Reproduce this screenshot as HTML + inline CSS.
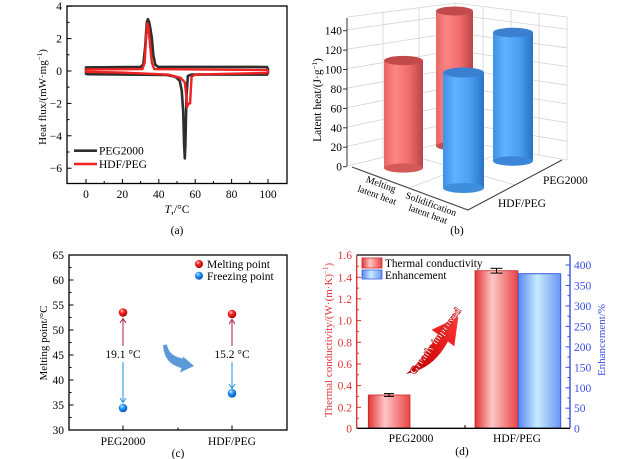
<!DOCTYPE html>
<html><head><meta charset="utf-8"><style>
html,body{margin:0;padding:0;background:#fff;}
svg{display:block;}
text{font-family:"Liberation Serif",serif;}
</style></head><body>
<svg width="639" height="459" viewBox="0 0 639 459" xmlns="http://www.w3.org/2000/svg">
<defs>
<linearGradient id="rb" x1="0" x2="1" y1="0" y2="0">
<stop offset="0" stop-color="#e86666"/><stop offset="0.3" stop-color="#ff8585"/><stop offset="0.65" stop-color="#ee6b6b"/><stop offset="1" stop-color="#b84545"/></linearGradient>
<linearGradient id="bb" x1="0" x2="1" y1="0" y2="0">
<stop offset="0" stop-color="#3f92e6"/><stop offset="0.3" stop-color="#5fb2ff"/><stop offset="0.65" stop-color="#4aa0f2"/><stop offset="1" stop-color="#2a72c4"/></linearGradient>
<linearGradient id="dr" x1="0" x2="1" y1="0" y2="0">
<stop offset="0" stop-color="#e23434"/><stop offset="0.4" stop-color="#ffc6c6"/><stop offset="1" stop-color="#e84444"/></linearGradient>
<linearGradient id="db" x1="0" x2="1" y1="0" y2="0">
<stop offset="0" stop-color="#5a88f0"/><stop offset="0.45" stop-color="#c6ecff"/><stop offset="1" stop-color="#6a96f2"/></linearGradient>
<radialGradient id="ballr" cx="0.38" cy="0.32" r="0.7">
<stop offset="0" stop-color="#ffd8d8"/><stop offset="0.35" stop-color="#ff2a2a"/><stop offset="1" stop-color="#a00000"/></radialGradient>
<radialGradient id="ballb" cx="0.38" cy="0.32" r="0.7">
<stop offset="0" stop-color="#d8f0ff"/><stop offset="0.35" stop-color="#2c9cff"/><stop offset="1" stop-color="#0050b8"/></radialGradient>
<linearGradient id="arr" x1="0" x2="1" y1="1" y2="0">
<stop offset="0" stop-color="#b80000"/><stop offset="0.6" stop-color="#e81a1a"/><stop offset="1" stop-color="#ff3a3a"/></linearGradient>
</defs>

<!-- ================= (a) ================= -->
<g>
<rect x="67" y="6" width="220" height="177.5" fill="none" stroke="#000" stroke-width="1.3"/>
<g stroke="#000" stroke-width="1">
<line x1="86" y1="183.5" x2="86" y2="179"/><line x1="122.4" y1="183.5" x2="122.4" y2="179"/><line x1="158.8" y1="183.5" x2="158.8" y2="179"/><line x1="195.2" y1="183.5" x2="195.2" y2="179"/><line x1="231.6" y1="183.5" x2="231.6" y2="179"/><line x1="268" y1="183.5" x2="268" y2="179"/>
<line x1="104.2" y1="183.5" x2="104.2" y2="181"/><line x1="140.6" y1="183.5" x2="140.6" y2="181"/><line x1="177" y1="183.5" x2="177" y2="181"/><line x1="213.4" y1="183.5" x2="213.4" y2="181"/><line x1="249.8" y1="183.5" x2="249.8" y2="181"/>
<line x1="67" y1="6.2" x2="71.5" y2="6.2"/><line x1="67" y1="38.6" x2="71.5" y2="38.6"/><line x1="67" y1="71" x2="71.5" y2="71"/><line x1="67" y1="103.4" x2="71.5" y2="103.4"/><line x1="67" y1="135.8" x2="71.5" y2="135.8"/><line x1="67" y1="168.2" x2="71.5" y2="168.2"/>
<line x1="67" y1="22.4" x2="69.5" y2="22.4"/><line x1="67" y1="54.8" x2="69.5" y2="54.8"/><line x1="67" y1="87.2" x2="69.5" y2="87.2"/><line x1="67" y1="119.6" x2="69.5" y2="119.6"/><line x1="67" y1="152" x2="69.5" y2="152"/>
</g>
<g font-size="11.5" text-anchor="end" fill="#000">
<text x="62" y="10.2">4</text><text x="62" y="42.6">2</text><text x="62" y="75">0</text><text x="62" y="107.4">−2</text><text x="62" y="139.8">−4</text><text x="62" y="172.2">−6</text>
</g>
<g font-size="11.5" text-anchor="middle" fill="#000">
<text x="86" y="198">0</text><text x="122.4" y="198">20</text><text x="158.8" y="198">40</text><text x="195.2" y="198">60</text><text x="231.6" y="198">80</text><text x="268" y="198">100</text>
<text x="177" y="213"><tspan font-style="italic">T</tspan>,/°C</text>
<text x="177" y="234">(a)</text>
</g>
<text transform="translate(46,97) rotate(-90)" font-size="11" text-anchor="middle">Heat flux/(mW·mg<tspan font-size="7" dy="-4">−1</tspan><tspan dy="4">)</tspan></text>

<path d="M86,73.9 L86,67.4 L140.6,67 L143.3,64.5 L145.2,46.7 L146.8,22.4 L147.9,19.2 L149.2,22.4 L150.4,28.9 L151.9,38.6 L153.3,54.8 L155.2,64.5 L157.9,66.8 L267.1,67 L268,69.4 L268,72.6 L267.1,74.6 L191.6,74.6 L187.9,75.9 L186.5,95.3 L185.4,143.9 L184.8,158.5 L184.1,143.9 L183.2,111.5 L181.7,90.4 L179.7,80.7 L175.2,76.7 L166.1,74.9 L87.8,74.2 Z" fill="none" stroke="#2e2e2e" stroke-width="2.6" stroke-linejoin="round"/>
<path d="M86,71.8 L86,69.4 L142.4,69.1 L144.6,62.9 L146.1,38.6 L147.3,23.2 L148.6,28.9 L150.1,45.1 L151.9,62.9 L154.3,69.1 L267.1,70 L268,71.8 L267.1,72.9 L195.2,74.6 L191.6,76.7 L190.7,92.1 L190.1,103.4 L188.3,103.4 L187,107.5 L186.1,93.7 L184.8,82.3 L180.6,77.8 L167.9,74.6 L122.4,72.6 Z" fill="none" stroke="#ee2222" stroke-width="2.4" stroke-linejoin="round"/>
<line x1="74" y1="150.7" x2="97" y2="150.7" stroke="#2e2e2e" stroke-width="2.6"/>
<line x1="74" y1="164" x2="97" y2="164" stroke="#ee2222" stroke-width="2.6"/>
<text x="99" y="154.7" font-size="11.5">PEG2000</text>
<text x="99" y="168" font-size="11.5">HDF/PEG</text>
</g>

<!-- ================= (b) ================= -->
<g>
<g fill="none" stroke="#d4d4d4" stroke-width="0.8">
<polyline points="347,166 455,140 567,160"/>
<polyline points="347,146.5 455,122.1 567,141.3"/>
<polyline points="347,127.1 455,104.2 567,122.6"/>
<polyline points="347,107.6 455,86.3 567,103.9"/>
<polyline points="347,88.2 455,68.4 567,85.2"/>
<polyline points="347,68.7 455,50.5 567,66.5"/>
<polyline points="347,49.2 455,32.6 567,47.8"/>
<polyline points="347,29.8 455,14.7 567,29.1"/>
<polyline points="347,17.1 455,3 567,17"/>
<line x1="383" y1="157.3" x2="383" y2="12.4"/><line x1="419" y1="148.7" x2="419" y2="7.7"/>
<line x1="455" y1="140" x2="455" y2="3"/>
<line x1="483" y1="145" x2="483" y2="6.5"/><line x1="511" y1="150" x2="511" y2="10"/><line x1="539" y1="155" x2="539" y2="13.5"/><line x1="567" y1="160" x2="567" y2="17"/>
<line x1="402.5" y1="153" x2="515.5" y2="185"/><line x1="409" y1="188" x2="509" y2="150"/>
</g>
<line x1="347" y1="18" x2="347" y2="166" stroke="#333" stroke-width="1"/>
<g stroke="#333" stroke-width="1">
<line x1="343" y1="166.7" x2="347" y2="166.7"/><line x1="343" y1="147.2" x2="347" y2="147.2"/><line x1="343" y1="127.8" x2="347" y2="127.8"/><line x1="343" y1="108.4" x2="347" y2="108.4"/><line x1="343" y1="89" x2="347" y2="89"/><line x1="343" y1="69.5" x2="347" y2="69.5"/><line x1="343" y1="50.1" x2="347" y2="50.1"/><line x1="343" y1="30.7" x2="347" y2="30.7"/>
</g>
<polyline points="352,167 468,210 562,160" fill="none" stroke="#444" stroke-width="1.1"/>
<g font-size="11.5" text-anchor="end">
<text x="342" y="170.7">0</text><text x="342" y="151.2">20</text><text x="342" y="131.8">40</text><text x="342" y="112.4">60</text><text x="342" y="93">80</text><text x="342" y="73.5">100</text><text x="342" y="54.1">120</text><text x="342" y="34.7">140</text>
</g>
<text transform="translate(321,100) rotate(-90)" font-size="11.5" text-anchor="middle">Latent heat/(J·g<tspan font-size="7" dy="-4">−1</tspan><tspan dy="4">)</tspan></text>

<rect x="436" y="11" width="37" height="135" fill="url(#rb)"/>
<ellipse cx="454.5" cy="146" rx="18.5" ry="4.5" fill="#c45050"/>
<ellipse cx="454.5" cy="11" rx="18.5" ry="4.5" fill="#c24a4a"/>
<rect x="493" y="32.5" width="40" height="128.5" fill="url(#bb)"/>
<ellipse cx="513" cy="161" rx="20" ry="4.8" fill="#3a86d8"/>
<ellipse cx="513" cy="32.5" rx="20" ry="4.8" fill="#3b7fd0"/>
<rect x="384" y="60.5" width="39" height="107.5" fill="url(#rb)"/>
<ellipse cx="403.5" cy="168" rx="19.5" ry="4.6" fill="#d45a5a"/>
<ellipse cx="403.5" cy="60.5" rx="19.5" ry="4.6" fill="#c24a4a"/>
<rect x="443" y="72.5" width="41" height="115.5" fill="url(#bb)"/>
<ellipse cx="463.5" cy="188" rx="20.5" ry="5" fill="#3f8ede"/>
<ellipse cx="463.5" cy="72.5" rx="20.5" ry="5" fill="#3b7fd0"/>

<g font-size="9.8" text-anchor="middle">
<text transform="translate(380,187) rotate(20)">Melting</text>
<text transform="translate(376,198) rotate(20)">latent heat</text>
<text transform="translate(430,207) rotate(20)">Solidification</text>
<text transform="translate(427,217) rotate(20)">latent heat</text>
</g>
<text x="543" y="184" font-size="11.5">PEG2000</text>
<text x="498" y="207" font-size="11.5">HDF/PEG</text>
<text x="457" y="234" font-size="11.5" text-anchor="middle">(b)</text>
</g>

<!-- ================= (c) ================= -->
<g>
<rect x="69" y="255" width="218" height="175" fill="none" stroke="#000" stroke-width="1.3"/>
<g stroke="#000" stroke-width="1">
<line x1="69" y1="280" x2="73.5" y2="280"/><line x1="69" y1="305" x2="73.5" y2="305"/><line x1="69" y1="330" x2="73.5" y2="330"/><line x1="69" y1="355" x2="73.5" y2="355"/><line x1="69" y1="380" x2="73.5" y2="380"/><line x1="69" y1="405" x2="73.5" y2="405"/>
<line x1="69" y1="267.5" x2="71.5" y2="267.5"/><line x1="69" y1="292.5" x2="71.5" y2="292.5"/><line x1="69" y1="317.5" x2="71.5" y2="317.5"/><line x1="69" y1="342.5" x2="71.5" y2="342.5"/><line x1="69" y1="367.5" x2="71.5" y2="367.5"/><line x1="69" y1="392.5" x2="71.5" y2="392.5"/><line x1="69" y1="417.5" x2="71.5" y2="417.5"/>
<line x1="123" y1="430" x2="123" y2="425.5"/><line x1="232" y1="430" x2="232" y2="425.5"/><line x1="178" y1="430" x2="178" y2="427.5"/>
</g>
<g font-size="11.5" text-anchor="end">
<text x="64" y="259">65</text><text x="64" y="284">60</text><text x="64" y="309">55</text><text x="64" y="334">50</text><text x="64" y="359">45</text><text x="64" y="384">40</text><text x="64" y="409">35</text><text x="64" y="434">30</text>
</g>
<g font-size="11.5" text-anchor="middle">
<text x="123" y="445">PEG2000</text><text x="232" y="445">HDF/PEG</text>
<text x="178" y="457">(c)</text>
<text x="123" y="358">19.1 °C</text><text x="232" y="358">15.2 °C</text>
</g>
<text transform="translate(47,343) rotate(-90)" font-size="11" text-anchor="middle">Melting point/°C</text>
<g fill="none" stroke-width="1.1">
<line x1="123" y1="346" x2="123" y2="319" stroke="#b03050"/><polyline points="120,323 123,318.5 126,323" stroke="#b03050"/>
<line x1="123" y1="362" x2="123" y2="402" stroke="#2a9ee0"/><polyline points="120,398 123,402.5 126,398" stroke="#2a9ee0"/>
<line x1="232" y1="346" x2="232" y2="320" stroke="#b03050"/><polyline points="229,324 232,319.5 235,324" stroke="#b03050"/>
<line x1="232" y1="362" x2="232" y2="388" stroke="#2a9ee0"/><polyline points="229,384 232,388.5 235,384" stroke="#2a9ee0"/>
</g>
<circle cx="123" cy="312.5" r="4.3" fill="url(#ballr)"/>
<circle cx="123" cy="408" r="4.3" fill="url(#ballb)"/>
<circle cx="232" cy="314" r="4.3" fill="url(#ballr)"/>
<circle cx="232" cy="393.3" r="4.3" fill="url(#ballb)"/>
<path d="M163,345 L167,344.5 Q168.5,356 183,358.5 L183,356.5 L194,366 L180,372.5 L181.5,368 Q164,364 163,345 Z" fill="#5b9ad6"/>
<circle cx="199" cy="264" r="4" fill="url(#ballr)"/>
<circle cx="199" cy="275.7" r="4" fill="url(#ballb)"/>
<text x="207" y="268" font-size="11.5">Melting point</text>
<text x="207" y="280" font-size="11.5">Freezing point</text>
</g>

<!-- ================= (d) ================= -->
<g>
<rect x="368.3" y="395" width="41.7" height="33.3" fill="url(#dr)" stroke="#c82828" stroke-width="0.8"/>
<rect x="475" y="270.7" width="43" height="157.6" fill="url(#dr)" stroke="#c82828" stroke-width="0.8"/>
<rect x="518.3" y="273.7" width="42.4" height="154.6" fill="url(#db)" stroke="#3a5ae0" stroke-width="1"/>
<g stroke="#000" stroke-width="1">
<line x1="389" y1="393.6" x2="389" y2="396.4"/><line x1="384" y1="393.6" x2="394" y2="393.6"/><line x1="384" y1="396.4" x2="394" y2="396.4"/>
<line x1="496.5" y1="268.3" x2="496.5" y2="273.1"/><line x1="490.5" y1="268.3" x2="502.5" y2="268.3"/><line x1="490.5" y1="273.1" x2="502.5" y2="273.1"/>
</g>
<line x1="356.7" y1="255" x2="570" y2="255" stroke="#000" stroke-width="1.3"/>
<line x1="356.7" y1="428.3" x2="570" y2="428.3" stroke="#000" stroke-width="1.3"/>
<line x1="356.7" y1="255" x2="356.7" y2="428.3" stroke="#e03434" stroke-width="1.4"/>
<line x1="570" y1="255" x2="570" y2="428.3" stroke="#3a4ee6" stroke-width="1.4"/>
<g stroke="#e03434" stroke-width="1">
<line x1="356.7" y1="277.3" x2="361" y2="277.3"/><line x1="356.7" y1="298.9" x2="361" y2="298.9"/><line x1="356.7" y1="320.6" x2="361" y2="320.6"/><line x1="356.7" y1="342.3" x2="361" y2="342.3"/><line x1="356.7" y1="364" x2="361" y2="364"/><line x1="356.7" y1="385.6" x2="361" y2="385.6"/><line x1="356.7" y1="407.3" x2="361" y2="407.3"/>
<line x1="356.7" y1="266.2" x2="359" y2="266.2"/><line x1="356.7" y1="288.1" x2="359" y2="288.1"/><line x1="356.7" y1="309.8" x2="359" y2="309.8"/><line x1="356.7" y1="331.5" x2="359" y2="331.5"/><line x1="356.7" y1="353.2" x2="359" y2="353.2"/><line x1="356.7" y1="374.8" x2="359" y2="374.8"/><line x1="356.7" y1="396.5" x2="359" y2="396.5"/><line x1="356.7" y1="418.2" x2="359" y2="418.2"/>
</g>
<g stroke="#3a4ee6" stroke-width="1">
<line x1="570" y1="265" x2="565.5" y2="265"/><line x1="570" y1="285.5" x2="565.5" y2="285.5"/><line x1="570" y1="306" x2="565.5" y2="306"/><line x1="570" y1="326.4" x2="565.5" y2="326.4"/><line x1="570" y1="346.9" x2="565.5" y2="346.9"/><line x1="570" y1="367.3" x2="565.5" y2="367.3"/><line x1="570" y1="387.8" x2="565.5" y2="387.8"/><line x1="570" y1="408.2" x2="565.5" y2="408.2"/>
<line x1="570" y1="275.2" x2="567.5" y2="275.2"/><line x1="570" y1="295.7" x2="567.5" y2="295.7"/><line x1="570" y1="316.2" x2="567.5" y2="316.2"/><line x1="570" y1="336.6" x2="567.5" y2="336.6"/><line x1="570" y1="357.1" x2="567.5" y2="357.1"/><line x1="570" y1="377.5" x2="567.5" y2="377.5"/><line x1="570" y1="398" x2="567.5" y2="398"/><line x1="570" y1="418.4" x2="567.5" y2="418.4"/>
</g>
<g stroke="#000" stroke-width="1"><line x1="465" y1="428.3" x2="465" y2="425"/></g>
<g font-size="11.5" text-anchor="end" fill="#e03434">
<text x="352" y="259">1.6</text><text x="352" y="281.3">1.4</text><text x="352" y="302.9">1.2</text><text x="352" y="324.6">1.0</text><text x="352" y="346.3">0.8</text><text x="352" y="368">0.6</text><text x="352" y="389.6">0.4</text><text x="352" y="411.3">0.2</text><text x="352" y="432.3">0</text>
</g>
<g font-size="11.5" fill="#3a4ee6">
<text x="574" y="269">400</text><text x="574" y="289.5">350</text><text x="574" y="310">300</text><text x="574" y="330.4">250</text><text x="574" y="350.9">200</text><text x="574" y="371.3">150</text><text x="574" y="391.8">100</text><text x="574" y="412.2">50</text><text x="574" y="432.3">0</text>
</g>
<g font-size="11.5" text-anchor="middle">
<text x="411" y="442">PEG2000</text><text x="517" y="442">HDF/PEG</text>
<text x="462" y="455">(d)</text>
</g>
<text transform="translate(332,340) rotate(-90)" font-size="11" text-anchor="middle" fill="#e03434">Thermal conductivity/(W·(m·K)<tspan font-size="7" dy="-4">−1</tspan><tspan dy="4">)</tspan></text>
<text transform="translate(605,340) rotate(-90)" font-size="11" text-anchor="middle" fill="#3a4ee6">Enhancement/%</text>
<rect x="362" y="258" width="20" height="10" fill="url(#dr)" stroke="#c82828" stroke-width="0.8"/>
<rect x="362" y="270" width="20" height="9" fill="url(#db)" stroke="#3a5ae0" stroke-width="0.8"/>
<text x="385" y="267" font-size="11.3">Thermal conductivity</text>
<text x="385" y="279" font-size="11.3">Enhancement</text>
<!-- greatly improved arrow -->
<path d="M406,374 C425,370 438,360 447.9,341.5 L454.3,346.3 L458.3,317 L431.7,329.7 L438.1,334.5 C430,346 420,363 406,374 Z" fill="url(#arr)"/>
<text transform="translate(438,343) rotate(-54)" font-size="10.5" font-weight="bold" text-anchor="middle" fill="#fff" stroke="#c81818" stroke-width="0.6">Greatly improved</text>
</g>
</svg>
</body></html>
